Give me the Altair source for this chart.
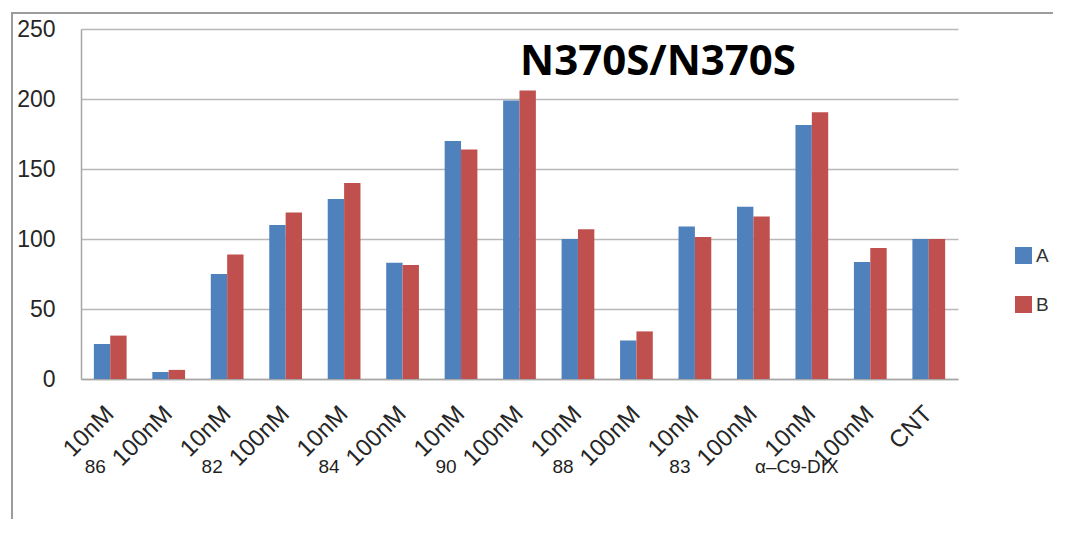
import altair as alt
import pandas as pd

# ---- data ----
groups = ["86", "86", "82", "82", "84", "84", "90", "90", "88", "88",
          "83", "83", "α–C9-DIX", "α–C9-DIX", "CNT"]
concs = ["10nM", "100nM", "10nM", "100nM", "10nM", "100nM", "10nM", "100nM",
         "10nM", "100nM", "10nM", "100nM", "10nM", "100nM", "CNT"]
series_a = [25, 5, 75, 110, 128.5, 83, 170, 199, 100, 27.5, 109, 123, 181.5, 83.5, 100]
series_b = [31, 6.5, 89, 119, 140, 81.5, 164, 206, 107, 34, 101.5, 116, 190.5, 93.5, 100]
series_names = ["A", "B"]
series_colors = ["#4F81BD", "#C0504D"]
group_labels = ["86", "82", "84", "90", "88", "83", "α–C9-DIX"]
y_ticks = [0, 50, 100, 150, 200, 250]
TITLE = "N370S/N370S"

keys = [f"{g}|{c}" for g, c in zip(groups, concs)]

rows = []
for k, a, b in zip(keys, series_a, series_b):
    rows.append({"key": k, "series": "A", "value": a})
    rows.append({"key": k, "series": "B", "value": b})
df = pd.DataFrame(rows)

first_keys = []
for g in group_labels:
    first_keys.append(keys[groups.index(g)])
df_groups = pd.DataFrame({"key": first_keys, "label": group_labels})

x_enc = alt.X(
    "key:N",
    sort=keys,
    title=None,
    scale=alt.Scale(paddingInner=0.44, paddingOuter=0.22),
    axis=alt.Axis(
        labelExpr="split(datum.value, '|')[1]",
        labelAngle=-45,
        labelAlign="right",
        labelBaseline="middle",
        labelFontSize=24,
        labelFont="Liberation Sans",
        labelColor="#262626",
        labelPadding=31,
        ticks=False,
        domainColor="#a6a6a6",
        domainWidth=1.5,
        grid=False,
    ),
)

bars = alt.Chart(df).mark_bar().encode(
    x=x_enc,
    xOffset=alt.XOffset("series:N", sort=series_names,
                        scale=alt.Scale(paddingInner=0, paddingOuter=0)),
    y=alt.Y(
        "value:Q",
        title=None,
        scale=alt.Scale(domain=[0, 250], nice=False),
        axis=alt.Axis(
            values=y_ticks,
            labelFontSize=23,
            labelFont="Liberation Sans",
            labelColor="#262626",
            labelPadding=26,
            ticks=False,
            domainColor="#a6a6a6",
            domainWidth=1.5,
            gridColor="#b8b8b8",
            gridWidth=1.5,
        ),
    ),
    color=alt.Color(
        "series:N",
        scale=alt.Scale(domain=series_names, range=series_colors),
        legend=alt.Legend(
            title=None,
            orient="none",
            legendX=933,
            legendY=217,
            symbolType="square",
            symbolSize=289,
            symbolStrokeWidth=0,
            labelFontSize=19,
            labelFont="Liberation Sans",
            labelColor="#333333",
            labelOffset=3,
            rowPadding=29,
        ),
    ),
)

group_text = alt.Chart(df_groups).mark_text(
    dx=-15, fontSize=19, font="Liberation Sans", color="#1f1f1f",
    baseline="middle", align="center",
).encode(
    x=x_enc,
    y=alt.value(438),
    text="label:N",
)

one = pd.DataFrame({"t": [TITLE]})
title_text = alt.Chart(one).mark_text(
    fontSize=42, font="Open Sans", fontWeight="bold", color="#000000",
    baseline="alphabetic", align="center",
).encode(
    x=alt.value(577),
    y=alt.value(46),
    text="t:N",
)

frame = alt.Chart(one).mark_rect(
    fillOpacity=0, stroke="#9c9c9c", strokeWidth=2,
).encode(
    x=alt.value(-69), x2=alt.value(1200),
    y=alt.value(-16), y2=alt.value(800),
)

chart = alt.layer(frame, bars, group_text, title_text).properties(
    width=877,
    height=350,
    autosize=alt.AutoSizeParams(type="none"),
    padding={"left": 73, "top": 21, "right": 95, "bottom": 140},
    background="white",
).configure_view(stroke="transparent")

chart.save("out.html", embed_options={"renderer": "svg", "actions": False})
